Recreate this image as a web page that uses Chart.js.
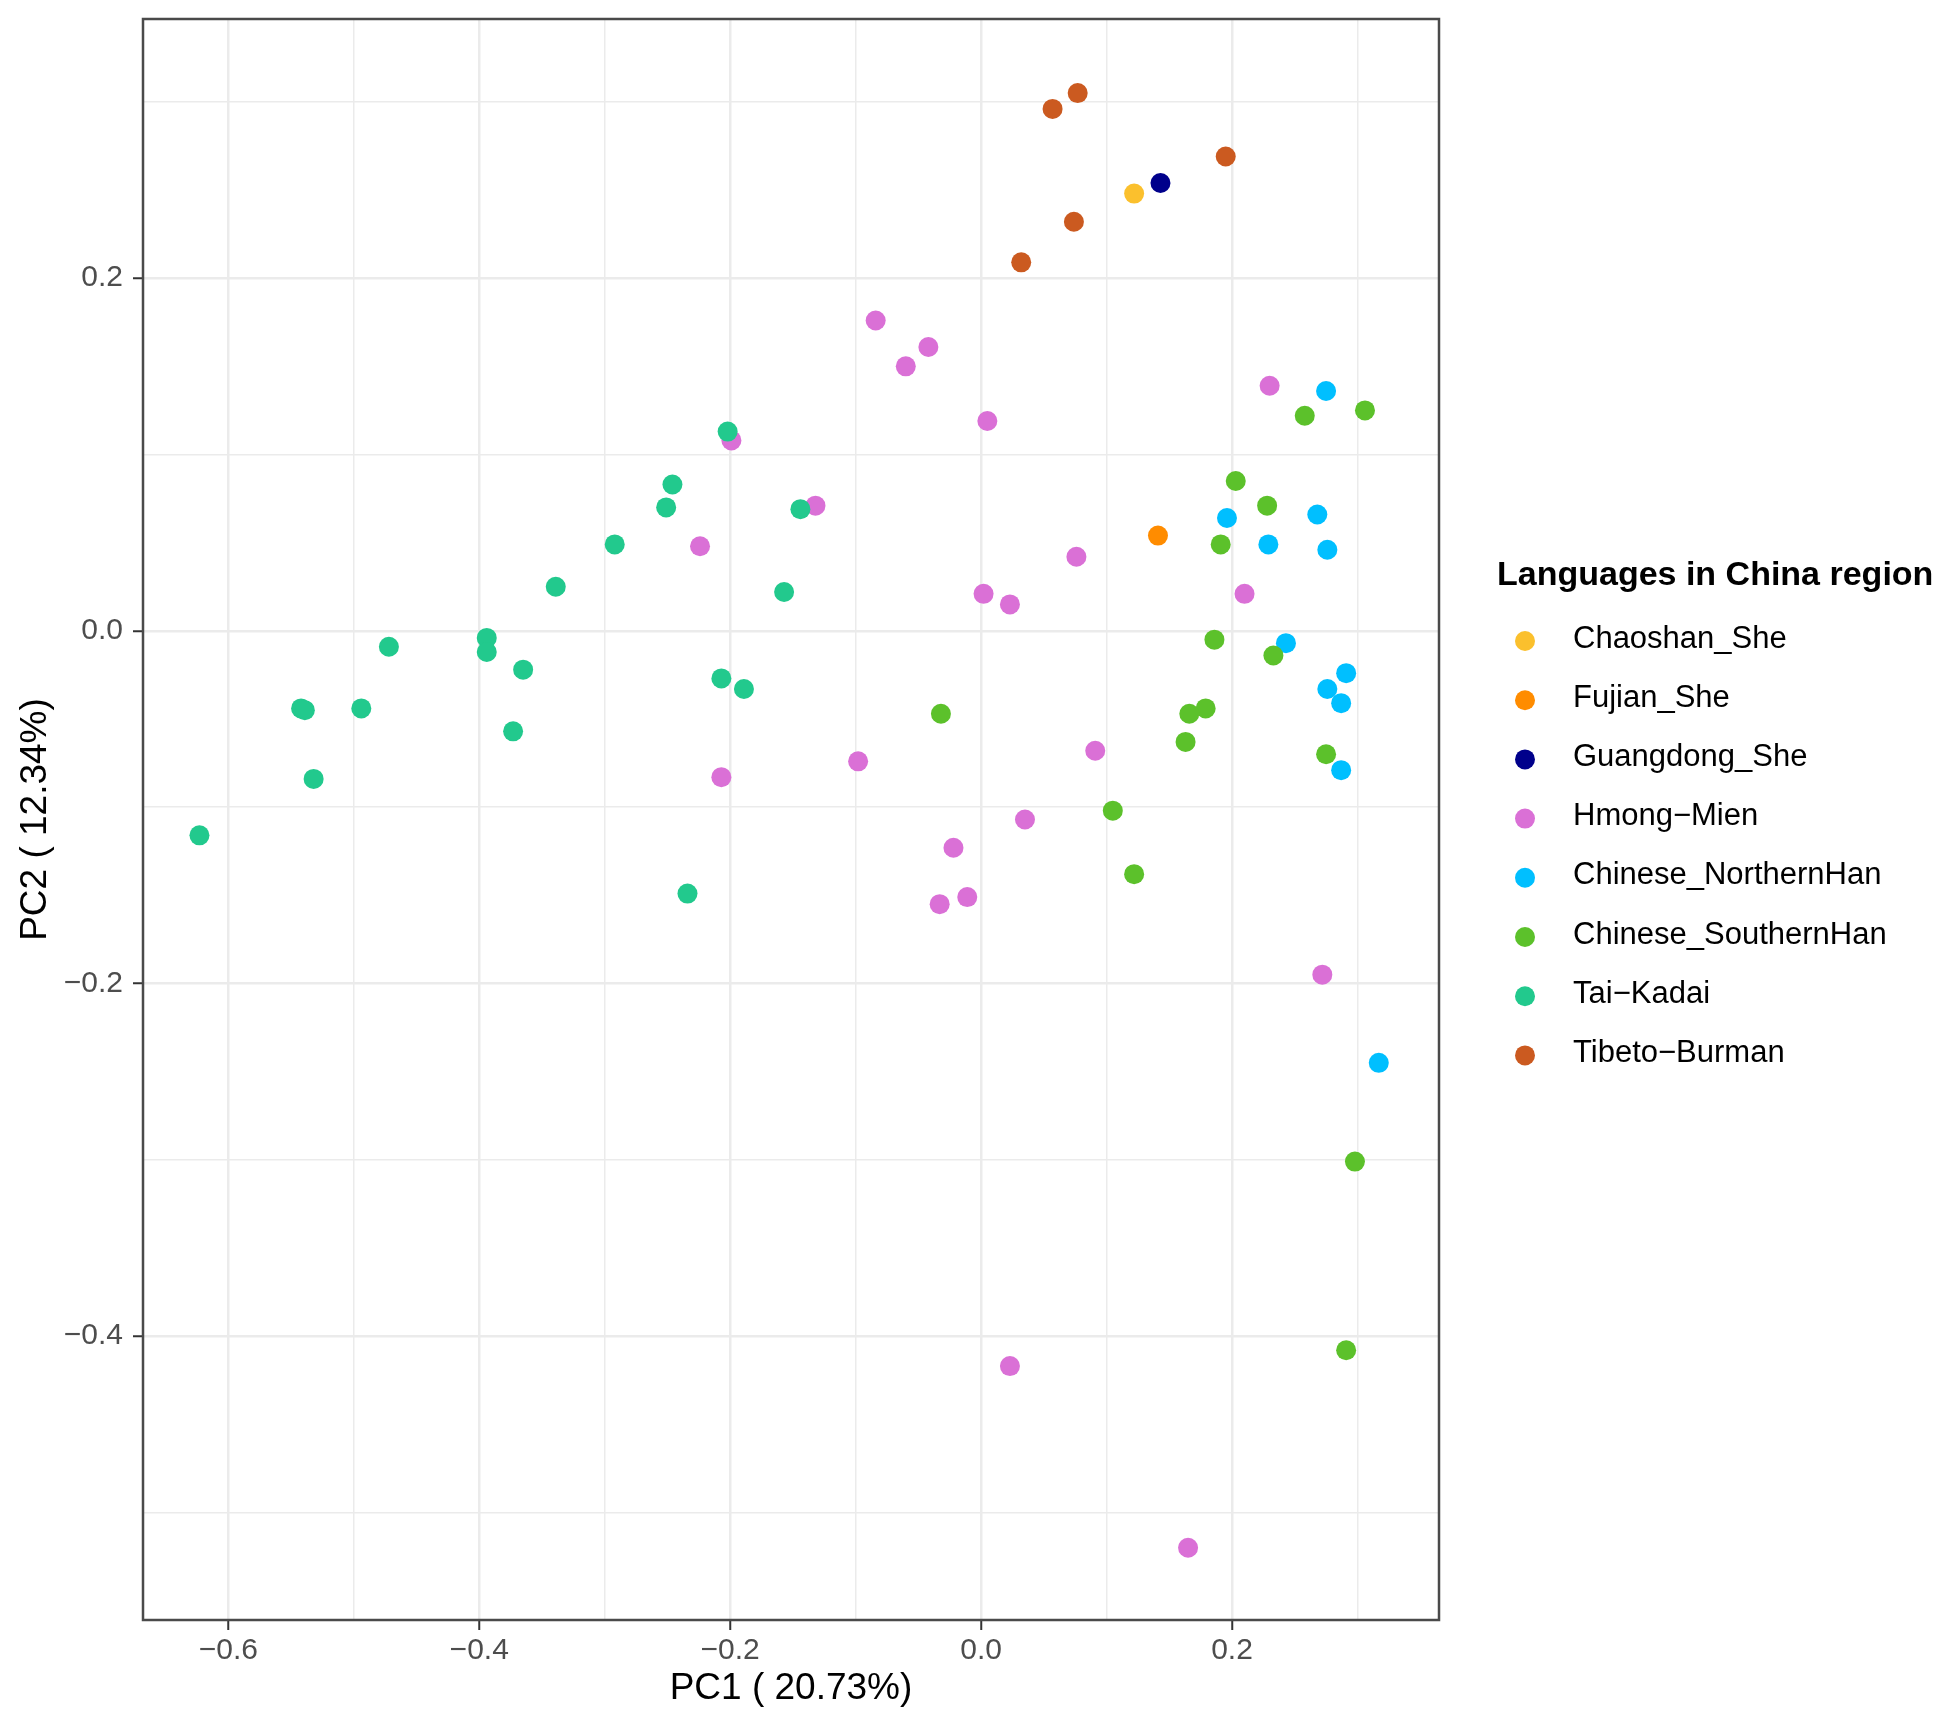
<!DOCTYPE html>
<html>
<head>
<meta charset="utf-8">
<script src="https://cdn.jsdelivr.net/npm/chart.js@4.4.1/dist/chart.umd.min.js"></script>
<style>
html,body{margin:0;padding:0;background:#fff;}
#wrap{position:absolute;left:0;top:0;width:1950px;height:1718px;}
</style>
</head>
<body>
<div id="wrap"><canvas id="c" width="1950" height="1718"></canvas></div>
<script>
// ---- Data (PC1, PC2) ----
const groupNames = ["Chaoshan_She","Fujian_She","Guangdong_She","Hmong\u2212Mien","Chinese_NorthernHan","Chinese_SouthernHan","Tai\u2212Kadai","Tibeto\u2212Burman"];
const groupColors = ["#FBC02D","#FF8C00","#00008B","#DA70D6","#00BFFF","#5CC12B","#22C98D","#CB5A20"];

const chaoshanPC1 = [0.122];
const chaoshanPC2 = [0.248];

const fujianPC1 = [0.141];
const fujianPC2 = [0.054];

const guangdongPC1 = [0.143];
const guangdongPC2 = [0.254];

const hmongPC1 = [-0.084,-0.042,-0.060,0.005,0.230,-0.199,-0.132,-0.224,0.076,0.002,0.023,0.210,0.091,-0.098,-0.207,0.035,-0.022,-0.011,-0.033,0.272,0.023,0.165];
const hmongPC2 = [0.176,0.161,0.150,0.119,0.139,0.108,0.071,0.048,0.042,0.021,0.015,0.021,-0.068,-0.074,-0.083,-0.107,-0.123,-0.151,-0.155,-0.195,-0.417,-0.520];

const northPC1 = [0.275,0.196,0.268,0.229,0.276,0.243,0.291,0.276,0.287,0.287,0.317];
const northPC2 = [0.136,0.064,0.066,0.049,0.046,-0.007,-0.024,-0.033,-0.041,-0.079,-0.245];

const southPC1 = [0.258,0.306,0.203,0.228,0.191,0.186,0.233,0.179,0.166,0.163,0.275,-0.032,0.105,0.122,0.298,0.291];
const southPC2 = [0.122,0.125,0.085,0.071,0.049,-0.005,-0.014,-0.044,-0.047,-0.063,-0.070,-0.047,-0.102,-0.138,-0.301,-0.408];

const taiPC1 = [-0.202,-0.246,-0.251,-0.144,-0.292,-0.339,-0.157,-0.394,-0.394,-0.472,-0.365,-0.207,-0.189,-0.542,-0.539,-0.494,-0.373,-0.532,-0.623,-0.234];
const taiPC2 = [0.113,0.083,0.070,0.069,0.049,0.025,0.022,-0.004,-0.012,-0.009,-0.022,-0.027,-0.033,-0.044,-0.045,-0.044,-0.057,-0.084,-0.116,-0.149];

const tibetoPC1 = [0.077,0.057,0.195,0.074,0.032];
const tibetoPC2 = [0.305,0.296,0.269,0.232,0.209];

const xMajorTicks = [-0.6,-0.4,-0.2,0.0,0.2];
const xMinorTicks = [-0.5,-0.3,-0.1,0.1,0.3];
const yMajorTicks = [-0.4,-0.2,0.0,0.2];
const yMinorTicks = [-0.5,-0.3,-0.1,0.1,0.3];

const xTitle = "PC1 ( 20.73%)";
const yTitle = "PC2 ( 12.34%)";
const legendTitle = "Languages in China region";

// ---- build datasets ----
const seriesPC1 = [chaoshanPC1,fujianPC1,guangdongPC1,hmongPC1,northPC1,southPC1,taiPC1,tibetoPC1];
const seriesPC2 = [chaoshanPC2,fujianPC2,guangdongPC2,hmongPC2,northPC2,southPC2,taiPC2,tibetoPC2];
const datasets = groupNames.map((name,i)=>({
  label: name,
  data: seriesPC1[i].map((x,j)=>({x:x,y:seriesPC2[i][j]})),
  backgroundColor: groupColors[i],
  borderColor: groupColors[i],
  borderWidth: 0,
  pointRadius: 10,
  pointHoverRadius: 10,
  order: groupNames.length - i
}));

function fmt(v){
  const r = Math.round(v*10)/10;
  const s = Math.abs(r).toFixed(1);
  return (r < 0 ? "\u2212" : "") + s;
}
function buildTicks(major, minor){
  const all = major.map(v=>({value:v, minor:false})).concat(minor.map(v=>({value:v, minor:true})));
  all.sort((a,b)=>a.value-b.value);
  return all;
}
const FONT = "'Liberation Sans', Arial, sans-serif";
Chart.defaults.font.family = FONT;

const gridOpts = {
  color: (ctx)=> '#EBEBEB',
  lineWidth: (ctx)=> (ctx.tick && ctx.tick.minor) ? 1.5 : 2.5,
  tickColor: (ctx)=> (ctx.tick && ctx.tick.minor) ? 'rgba(0,0,0,0)' : '#333333',
  tickWidth: 2,
  tickLength: 10,
  drawTicks: true
};

const framePlugin = {
  id: 'frame',
  afterDraw(chart){
    const ctx = chart.ctx;
    const a = chart.chartArea;
    ctx.save();
    ctx.strokeStyle = '#4a4a4a';
    ctx.lineWidth = 2.5;
    ctx.strokeRect(a.left, a.top, a.right - a.left, a.bottom - a.top);
    ctx.restore();
  }
};

const legendPlugin = {
  id: 'ggLegend',
  afterDraw(chart){
    const ctx = chart.ctx;
    ctx.save();
    ctx.fillStyle = '#000';
    ctx.font = "bold 34px " + FONT;
    ctx.textBaseline = 'middle';
    ctx.textAlign = 'left';
    ctx.fillText(legendTitle, 1497, 576);
    const ds = chart.data.datasets;
    for (let i = 0; i < ds.length; i++){
      const y = 641 + i*59.2;
      ctx.beginPath();
      ctx.fillStyle = ds[i].backgroundColor;
      ctx.arc(1525, y, 10, 0, Math.PI*2);
      ctx.fill();
      ctx.fillStyle = '#000';
      ctx.font = "31px " + FONT;
      ctx.fillText(ds[i].label, 1573, y - 2);
    }
    ctx.restore();
  }
};

new Chart(document.getElementById('c'), {
  type: 'scatter',
  data: { datasets: datasets },
  options: {
    responsive: false,
    animation: false,
    devicePixelRatio: 1,
    events: [],
    layout: { padding: { left: 0, top: 19, right: 511, bottom: 0 } },
    plugins: { legend: { display: false }, tooltip: { enabled: false } },
    scales: {
      x: {
        type: 'linear',
        min: -0.668, max: 0.365,
        afterBuildTicks: (s)=>{ s.ticks = buildTicks(xMajorTicks, xMinorTicks); },
        afterFit: (s)=>{ s.height = 98; s.paddingLeft = 0; s.paddingRight = 0; },
        grid: gridOpts,
        border: { display: false },
        ticks: {
          autoSkip: false, maxRotation: 0, padding: 3,
          color: '#4D4D4D', font: { size: 30 },
          callback: (v, i, ticks)=> ticks[i].minor ? '' : fmt(v)
        },
        title: { display: true, text: xTitle, color: '#000', font: { size: 37 }, padding: { top: 0, bottom: 7 } }
      },
      y: {
        type: 'linear',
        min: -0.561, max: 0.347,
        afterBuildTicks: (s)=>{ s.ticks = buildTicks(yMajorTicks, yMinorTicks); },
        afterFit: (s)=>{ s.width = 143; s.paddingTop = 0; s.paddingBottom = 0; },
        grid: gridOpts,
        border: { display: false },
        ticks: {
          autoSkip: false, padding: 10,
          color: '#4D4D4D', font: { size: 30 },
          callback: (v, i, ticks)=> ticks[i].minor ? '' : fmt(v)
        },
        title: { display: true, text: yTitle, color: '#000', font: { size: 37 }, padding: { top: 14, bottom: 0 } }
      }
    }
  },
  plugins: [framePlugin, legendPlugin]
});
</script>
</body>
</html>
